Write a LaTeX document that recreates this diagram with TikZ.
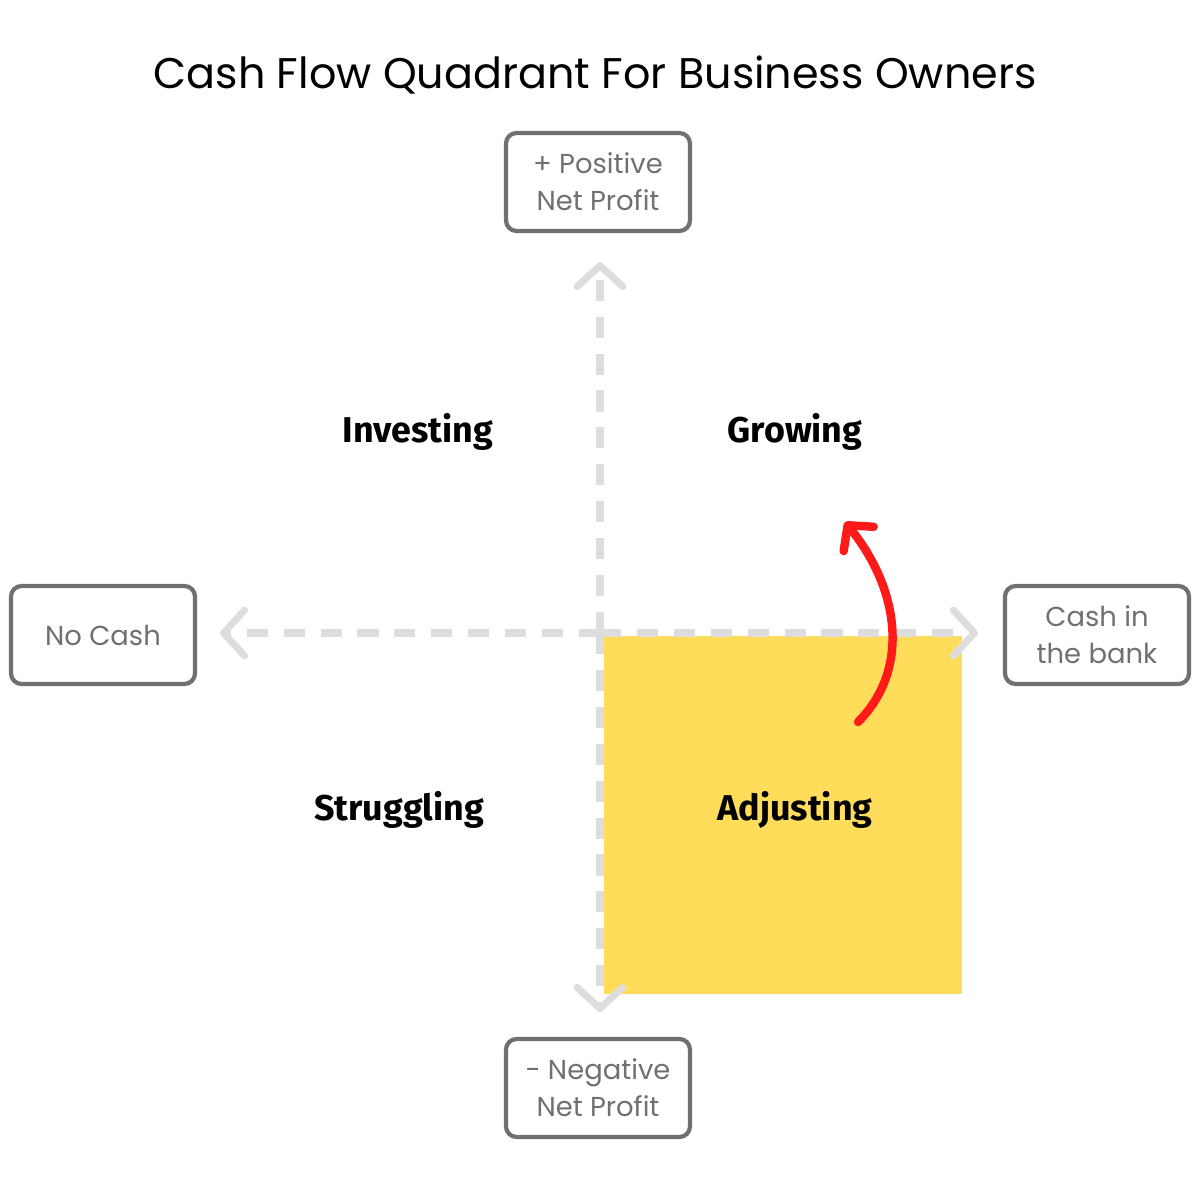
\documentclass[tikz,border=0pt]{standalone}
\usepackage{fontspec}
\setmainfont{Poppins}
\newfontfamily\labfont{Fira Sans}
\usetikzlibrary{arrows.meta}
\definecolor{axisgray}{HTML}{DDDDDD}
\definecolor{boxgray}{HTML}{707070}
\definecolor{padyellow}{HTML}{FFDC5A}
\definecolor{curvered}{HTML}{FF1A1A}
\begin{document}
\begin{tikzpicture}
		\tikzset{
			endbox/.style={draw=boxgray,line width=1.2pt,rounded corners=3pt,minimum width=1.84cm,minimum height=0.98cm,align=center,text=boxgray,font=\fontsize{7.8}{10.6}\selectfont},
			quadlab/.style={font=\labfont\bfseries\fontsize{10.2}{12}\selectfont},
			axis/.style={axisgray,line width=2pt,dash pattern=on 6pt off 4.5pt,-{Straight Barb[length=6pt,width=13pt,line cap=round,line join=round]}}
		}
		\useasboundingbox (0,0) rectangle (12,12);
		\node at (5.95,11.25) {\fontsize{12.2}{15}\selectfont Cash Flow Quadrant For Business Owners};
		% yellow quadrant
		\fill[padyellow] (6.04,2.06) rectangle (9.62,5.64);
		% end boxes
		\node[endbox] (pos) at (5.98,10.18) {+ Positive\\Net Profit};
		\node[endbox] (neg) at (5.98,1.12) {- Negative\\Net Profit};
		\node[endbox] (nocash) at (1.03,5.65) {No Cash};
		\node[endbox] (cash) at (10.97,5.65) {Cash in\\the bank};
		% axes
		\coordinate (o) at (6.0,5.67);
		\coordinate (top) at (6.0,9.38);
		\coordinate (bot) at (6.0,1.88);
		\coordinate (lft) at (2.2,5.67);
		\coordinate (rgt) at (9.78,5.67);
		\draw[axis] (o) -- (top);
		\draw[axis] (o) -- (bot);
		\draw[axis] (o) -- (lft);
		\draw[axis] (o) -- (rgt);
		% labels
		\node[quadlab] (inv) at (4.18,7.68) {Investing};
		\node[quadlab] (grow) at (7.95,7.68) {Growing};
		\node[quadlab] (strug) at (3.99,3.9) {Struggling};
		\node[quadlab] (adj) at (7.95,3.9) {Adjusting};
		% red curve
		\coordinate (cs) at (8.58,4.78);
		\coordinate (ce) at (8.45,6.78);
		\draw[curvered,line width=2.4pt,line cap=round,-{Straight Barb[length=5pt,width=11pt,line cap=round,line join=round]}] (cs) .. controls (9.1,5.3) and (9.0,6.1) .. (ce);
\end{tikzpicture}
\end{document}
